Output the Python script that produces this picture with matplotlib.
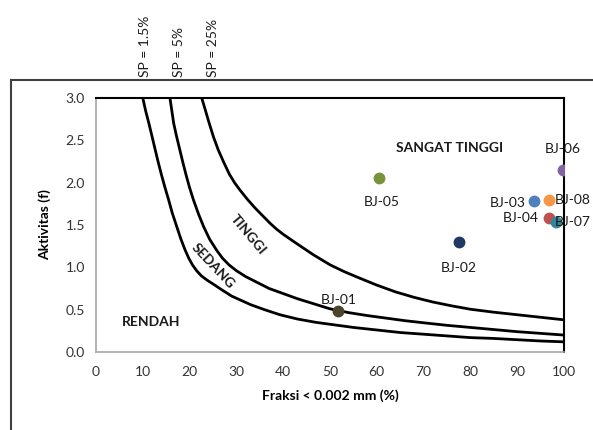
import matplotlib
matplotlib.use("Agg")
from matplotlib import pyplot as plt
from matplotlib.lines import Line2D

plt.rcParams['font.family'] = ['Lato', 'DejaVu Sans']

# swelling potential boundary curves
sp15_x = [10.0, 10.6, 11.3, 12.0, 12.6, 13.3, 14.0, 14.7, 15.5, 16.3, 17.2, 18.1,
          19.0, 19.8, 20.6, 21.5, 22.5, 23.7, 25.1, 27.0, 29.0, 31.0, 33.0, 36.0,
          39.3, 43.0, 47.0, 51.0, 55.0, 60.0, 65.0, 70.0, 75.0, 80.0, 85.0, 90.0,
          95.0, 100.0]
sp15_y = [3.00, 2.85, 2.70, 2.54, 2.40, 2.24, 2.09, 1.95, 1.80, 1.64, 1.49, 1.34,
          1.21, 1.11, 1.03, 0.96, 0.90, 0.85, 0.80, 0.73, 0.66, 0.61, 0.56, 0.50,
          0.44, 0.39, 0.35, 0.32, 0.29, 0.26, 0.23, 0.21, 0.19, 0.17, 0.16, 0.145,
          0.13, 0.12]

sp5_x = [15.8, 16.2, 16.6, 17.2, 17.9, 18.6, 19.3, 20.0, 20.8, 21.9, 23.0, 24.3,
         25.8, 27.0, 28.4, 30.0, 32.0, 34.5, 37.0, 40.0, 43.0, 46.5, 50.0, 54.0,
         58.0, 62.0, 66.0, 70.0, 75.0, 80.0, 85.0, 90.0, 95.0, 100.0]
sp5_y = [3.00, 2.85, 2.70, 2.55, 2.39, 2.23, 2.08, 1.94, 1.80, 1.63, 1.48, 1.33,
         1.20, 1.11, 1.03, 0.96, 0.89, 0.82, 0.75, 0.69, 0.63, 0.57, 0.51, 0.465,
         0.43, 0.40, 0.37, 0.345, 0.315, 0.29, 0.265, 0.24, 0.22, 0.20]

sp25_x = [22.6, 23.4, 24.2, 25.1, 26.1, 27.3, 28.5, 29.6, 30.8, 32.4, 34.0, 35.6,
          37.2, 38.6, 40.0, 42.9, 46.4, 50.0, 53.0, 56.0, 60.0, 64.0, 68.0, 72.0,
          76.0, 80.0, 85.0, 90.0, 95.0, 100.0]
sp25_y = [3.00, 2.85, 2.70, 2.54, 2.39, 2.24, 2.10, 2.00, 1.91, 1.80, 1.70, 1.61,
          1.52, 1.45, 1.39, 1.28, 1.15, 1.03, 0.95, 0.88, 0.79, 0.71, 0.645, 0.59,
          0.545, 0.505, 0.47, 0.44, 0.41, 0.38]

# samples
names = ["BJ-01", "BJ-02", "BJ-03", "BJ-04", "BJ-05", "BJ-06", "BJ-07", "BJ-08"]
clay = [51.8, 77.6, 93.6, 96.7, 60.5, 99.7, 98.3, 96.7]
activity = [0.485, 1.30, 1.78, 1.58, 2.05, 2.15, 1.54, 1.80]
colors = ["#4a452a", "#1f3864", "#4f81bd", "#c0504d", "#77933c", "#8064a2",
          "#31859c", "#f79646"]

fig = plt.figure(figsize=(5.93, 4.30), dpi=100)
ax = fig.add_axes([0.1619, 0.1814, 0.7892, 0.5907])

# outer chart frame
fig.add_artist(Line2D([0.0185, 0.0185], [0.0, 0.814], color="#404040", lw=1.5,
                      transform=fig.transFigure))
fig.add_artist(Line2D([0.0185, 1.0], [0.814, 0.814], color="#404040", lw=1.5,
                      transform=fig.transFigure))

for xs, ys in [(sp15_x, sp15_y), (sp5_x, sp5_y), (sp25_x, sp25_y)]:
    ax.plot(xs, ys, "-k", linewidth=2, solid_joinstyle="round")

for n, x, y, c in zip(names, clay, activity, colors):
    ax.plot(x, y, "o", color=c, markersize=7.5, zorder=3)

lab = dict(fontsize=10, color="#1a1a1a", zorder=4)
ax.text(51.8, 0.62, "BJ-01", ha="center", va="center", **lab)
ax.text(77.6, 0.99, "BJ-02", ha="center", va="center", **lab)
ax.text(91.8, 1.76, "BJ-03", ha="right", va="center", **lab)
ax.text(94.6, 1.58, "BJ-04", ha="right", va="center", **lab)
ax.text(61.0, 1.77, "BJ-05", ha="center", va="center", **lab)
ax.text(99.7, 2.40, "BJ-06", ha="center", va="center", **lab)
ax.text(98.0, 1.53, "BJ-07", ha="left", va="center", **lab)
ax.text(98.0, 1.79, "BJ-08", ha="left", va="center", **lab)

zone = dict(fontsize=10, fontweight="bold", color="#1a1a1a")
ax.text(75.6, 2.41, "SANGAT TINGGI", ha="center", va="center", **zone)
ax.text(5.6, 0.35, "RENDAH", ha="left", va="center", **zone)
ax.text(32.5, 1.38, "TINGGI", ha="center", va="center", rotation=-50, **zone)
ax.text(24.9, 1.02, "SEDANG", ha="center", va="center", rotation=-47, **zone)

for x, s in [(10.5, "SP = 1.5%"), (17.7, "SP = 5%"), (24.9, "SP = 25%")]:
    ax.annotate(s, xy=(x, 1.083), xycoords=("data", "axes fraction"),
                rotation=90, ha="center", va="bottom", fontsize=10,
                color="#1a1a1a", annotation_clip=False)

ax.set_xlim(0, 100)
ax.set_ylim(0, 3.0)
ax.set_xticks(range(0, 101, 10))
ax.set_yticks([0.0, 0.5, 1.0, 1.5, 2.0, 2.5, 3.0])
ax.set_yticklabels(["0.0", "0.5", "1.0", "1.5", "2.0", "2.5", "3.0"])
ax.tick_params(length=0, labelsize=10, colors="#333333", pad=10)
ax.tick_params(axis="y", pad=8)

for side in ["left", "bottom"]:
    ax.spines[side].set_color("#a6a6a6")
    ax.spines[side].set_linewidth(1.2)
for side in ["top", "right"]:
    ax.spines[side].set_color("black")
    ax.spines[side].set_linewidth(1.5)

ax.set_xlabel("Fraksi < 0.002 mm (%)", fontsize=10, fontweight="bold", labelpad=8)
ax.set_ylabel("Aktivitas (f)", fontsize=10, fontweight="bold", labelpad=10)

fig.savefig("out.png", dpi=100)
